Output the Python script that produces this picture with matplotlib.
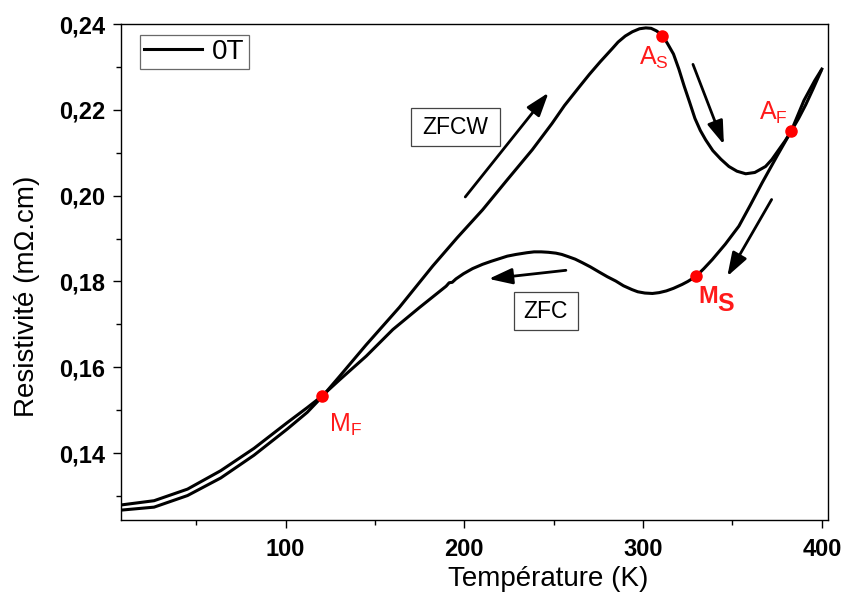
import matplotlib
matplotlib.use('Agg')
import matplotlib.pyplot as plt
from matplotlib.patches import Rectangle
from matplotlib.ticker import MultipleLocator, FuncFormatter

plt.rcParams['font.family'] = ['Liberation Sans', 'DejaVu Sans']

# warming curve (ZFCW)
t_warm = [7.8, 26.4, 45.1, 63.7, 82.3, 100.9, 112.1, 120.1, 130.0, 145.0, 163.7,
          182.3, 196.0, 210.2, 224.0, 238.0, 249.0, 256.0, 264.2, 270.0, 276.0,
          282.8, 286.0, 290.0, 294.0, 298.0, 301.5, 304.5, 307.5, 311.0, 314.0,
          317.0, 320.0, 323.0, 326.0, 329.0, 332.0, 335.0, 339.0, 343.5, 348.0,
          352.5, 357.4, 362.5, 368.5, 372.0, 375.9, 379.5, 382.8, 387.0, 391.0,
          395.0, 399.5]
r_warm = [0.1267, 0.1274, 0.1301, 0.1342, 0.1395, 0.1456, 0.1495, 0.1530, 0.1578, 0.1652, 0.1740,
          0.1836, 0.1902, 0.1967, 0.2037, 0.2107, 0.2168, 0.2210, 0.2253, 0.2283, 0.2312,
          0.2343, 0.2358, 0.2372, 0.2382, 0.2389, 0.2391, 0.2390, 0.2384, 0.2373, 0.2352,
          0.2330, 0.2295, 0.2255, 0.2218, 0.2180, 0.2152, 0.2130, 0.2105, 0.2085, 0.2068,
          0.2057, 0.2051, 0.2054, 0.2068, 0.2084, 0.2107, 0.2128, 0.2150, 0.2180, 0.2212,
          0.2248, 0.2290]

# cooling curve (ZFC)
t_cool = [400.0, 396.0, 390.0, 382.8, 375.0, 366.6, 360.0, 353.6, 346.0, 338.7,
          334.0, 329.6, 325.0, 321.8, 317.0, 313.0, 309.0, 305.2, 301.0, 297.0,
          293.8, 289.0, 284.7, 280.0, 275.4, 270.5, 265.9, 262.0, 258.0, 254.5,
          251.2, 247.0, 243.0, 239.0, 235.0, 228.9, 224.0, 219.5, 215.0, 210.2,
          204.6, 199.5, 195.3, 193.2, 191.5, 189.8, 174.8, 160.0, 145.1, 130.0,
          119.5, 112.1, 100.9, 82.3, 63.7, 45.1, 26.4, 7.8]
r_cool = [0.2295, 0.2268, 0.2222, 0.2150, 0.2093, 0.2030, 0.1978, 0.1929, 0.1887, 0.1851,
          0.1830, 0.1812, 0.1800, 0.1793, 0.1784, 0.1778, 0.1774, 0.1772, 0.1773, 0.1776,
          0.1781, 0.1790, 0.1801, 0.1811, 0.1822, 0.1834, 0.1844, 0.1852, 0.1858, 0.1863,
          0.1866, 0.1868, 0.1869, 0.1869, 0.1867, 0.1863, 0.1859, 0.1853, 0.1847, 0.1840,
          0.1830, 0.1818, 0.1806, 0.1798, 0.1797, 0.1789, 0.1739, 0.1688, 0.1626, 0.1570,
          0.1530, 0.1506, 0.1471, 0.1411, 0.1359, 0.1316, 0.1289, 0.1279]

# transition points
pt_names = ['A_S', 'A_F', 'M_S', 'M_F']
pt_t = [310.8, 382.8, 329.6, 120.1]
pt_r = [0.2373, 0.2150, 0.1812, 0.1533]

fig = plt.figure(figsize=(8.45, 5.92), dpi=100)
ax = fig.add_axes([0.143, 0.1216, 0.837, 0.8378])

ax.plot(t_warm, r_warm, color='black', lw=2.2, label='0T')
ax.plot(t_cool, r_cool, color='black', lw=2.2)
ax.plot(pt_t, pt_r, 'o', color='red', ms=8, zorder=5)

red = '#ff1a1a'
# labels of the points
ax.annotate(r'$\mathregular{A_S}$', (pt_t[0], pt_r[0]), xytext=(-17, -21), textcoords='offset points',
            color=red, fontsize=18, ha='left', va='baseline')
ax.annotate(r'$\mathregular{A_F}$', (pt_t[1], pt_r[1]), xytext=(-23, 8), textcoords='offset points',
            color=red, fontsize=18, ha='left', va='baseline')
ax.annotate('M', (pt_t[2], pt_r[2]), xytext=(2, -19), textcoords='offset points',
            color=red, fontsize=17, fontweight='bold', ha='left', va='baseline')
ax.annotate('S', (pt_t[2], pt_r[2]), xytext=(15, -25), textcoords='offset points',
            color=red, fontsize=18, fontweight='bold', ha='left', va='baseline')
ax.annotate(r'$\mathregular{M_F}$', (pt_t[3], pt_r[3]), xytext=(5.5, -26), textcoords='offset points',
            color=red, fontsize=18, ha='left', va='baseline')

# arrows
arr = dict(arrowstyle='-|>,head_length=0.65,head_width=0.22', color='black', lw=2.0,
           mutation_scale=22, shrinkA=0, shrinkB=0)
ax.annotate('', xy=(247.1, 0.2240), xytext=(200.5, 0.1997), arrowprops=arr)
ax.annotate('', xy=(213.6, 0.1806), xytext=(256.8, 0.1826), arrowprops=arr)
ax.annotate('', xy=(345.2, 0.2119), xytext=(327.9, 0.2306), arrowprops=arr)
ax.annotate('', xy=(347.1, 0.1812), xytext=(371.9, 0.1991), arrowprops=arr)

# boxed labels
ax.add_patch(Rectangle((0.4098, 0.754), 0.1262, 0.076, transform=ax.transAxes,
                       fc='white', ec='#444444', lw=0.9, zorder=4))
ax.text(0.4728, 0.792, 'ZFCW', transform=ax.transAxes, fontsize=16.5, ha='center', va='center', zorder=5)
ax.add_patch(Rectangle((0.5563, 0.383), 0.0896, 0.0773, transform=ax.transAxes,
                       fc='white', ec='#444444', lw=0.9, zorder=4))
ax.text(0.601, 0.4214, 'ZFC', transform=ax.transAxes, fontsize=16.5, ha='center', va='center', zorder=5)

ax.set_xlim(7.8, 403.5)
ax.set_ylim(0.1244, 0.24)
ax.xaxis.set_major_locator(MultipleLocator(100))
ax.xaxis.set_minor_locator(MultipleLocator(50))
ax.yaxis.set_major_locator(MultipleLocator(0.02))
ax.yaxis.set_minor_locator(MultipleLocator(0.01))
ax.yaxis.set_major_formatter(FuncFormatter(lambda v, p: f'{v:.2f}'.replace('.', ',')))
ax.tick_params(which='major', direction='out', length=6, width=1, labelsize=17, pad=5)
ax.tick_params(which='minor', direction='out', length=3.5, width=1)
ax.tick_params(axis='x', which='major', pad=7)
for lab in ax.get_xticklabels() + ax.get_yticklabels():
    lab.set_fontweight('bold')
for s in ax.spines.values():
    s.set_linewidth(1)

ax.set_xlabel('Température (K)', fontsize=20)
ax.xaxis.set_label_coords(0.604, -0.093)
ax.set_ylabel('Resistivité (mΩ.cm)', fontsize=20)
ax.yaxis.label.set_va('center')
ax.yaxis.set_label_coords(-0.133, 0.452)

leg = ax.legend(loc='upper left', bbox_to_anchor=(0.027, 0.978), borderaxespad=0, fontsize=20,
                frameon=True, fancybox=False, edgecolor='#444444', handlelength=2.1,
                handletextpad=0.35, borderpad=0.15)
leg.get_frame().set_linewidth(0.9)
leg.get_lines()[0].set_linewidth(2.2)

fig.savefig('out.png', dpi=100)
